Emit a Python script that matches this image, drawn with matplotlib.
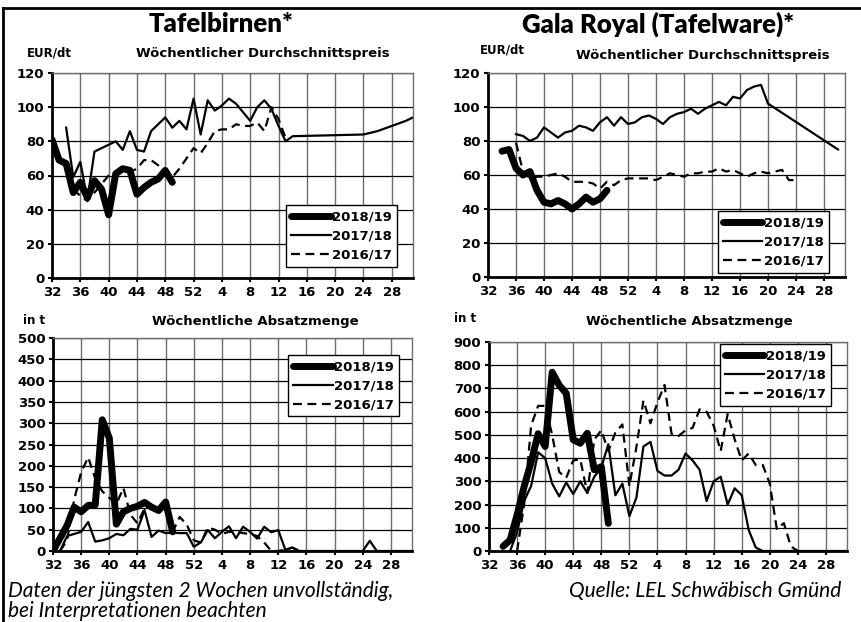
import matplotlib
matplotlib.use('Agg')
import matplotlib.pyplot as plt
from matplotlib.lines import Line2D

# week index: 32..52 of first year, then 1..31 of next year
def pos(weeks):
    return [w - 32 if w >= 32 else w + 20 for w in weeks]

tick_weeks = [32, 36, 40, 44, 48, 52, 4, 8, 12, 16, 20, 24, 28]
seasons = ['2018/19', '2017/18', '2016/17']

# Tafelbirnen - Preis (EUR/dt)
birn_p18_w = list(range(32, 50))
birn_p18 = [81, 69, 67, 50, 56, 47, 57, 52, 37, 61, 64, 63, 49, 53, 56, 58, 63, 56]
birn_p17_w = list(range(34, 53)) + list(range(1, 15)) + [24, 26, 28, 30, 31]
birn_p17 = [88, 59, 68, 46, 74, 76, 78, 80, 75, 86, 75, 74, 86, 90, 94, 88, 92, 87, 105,
            84, 104, 98, 101, 105, 102, 97, 92, 100, 104, 99, 89, 80, 83,
            84, 86, 89, 92, 94]
birn_p16_w = list(range(35, 53)) + list(range(1, 14))
birn_p16 = [52, 48, 45, 50, 55, 60, 62, 63, 62, 64, 69, 69, 66, 62, 59, 64, 70, 76,
            73, 79, 86, 87, 87, 90, 89, 89, 91, 86, 100, 93, 82]

# Tafelbirnen - Menge (t)
birn_m18_w = list(range(32, 50))
birn_m18 = [0, 30, 60, 103, 92, 107, 108, 308, 265, 63, 92, 100, 105, 114, 103, 95, 115, 45]
birn_m17_w = list(range(33, 53)) + list(range(1, 32))
birn_m17 = [0, 35, 40, 45, 68, 22, 25, 30, 40, 37, 52, 50, 96, 33, 48, 42, 43, 42, 42, 10,
            20, 49, 30, 45, 58, 30, 57, 45, 29, 57, 44, 49, 3, 8, 0, 0, 0, 0, 0, 0,
            0, 0, 0, 0, 24, 0, 0, 0, 0, 0, 0]
birn_m16_w = list(range(33, 53)) + list(range(1, 16))
birn_m16 = [0, 25, 120, 185, 220, 170, 140, 125, 110, 148, 85, 65, 100, 105, 95, 100, 45, 80, 62, 25,
            20, 55, 50, 40, 45, 45, 42, 40, 35, 20, 0, 0, 3, 8, 0]

# Gala Royal - Preis (EUR/dt)
gala_p18_w = list(range(34, 50))
gala_p18 = [74, 75, 64, 60, 62, 51, 44, 43, 45, 43, 40, 43, 47, 44, 46, 51]
gala_p17_w = list(range(36, 53)) + list(range(1, 21)) + [30]
gala_p17 = [84, 83, 80, 82, 88, 85, 82, 85, 86, 89, 88, 86, 91, 94, 89, 94, 90,
            91, 94, 95, 93, 90, 94, 96, 97, 99, 96, 99, 101, 103, 101, 106, 105, 110, 112, 113, 102,
            75]
gala_p16_w = list(range(36, 53)) + list(range(1, 25))
gala_p16 = [79, 62, 58, 59, 59, 60, 61, 59, 56, 56, 56, 55, 52, 56, 54, 57, 58,
            58, 58, 58, 57, 59, 61, 60, 59, 61, 61, 62, 62, 64, 62, 63, 61, 59, 61, 62, 61, 62, 63, 57, 57]

# Gala Royal - Menge (t)
gala_m18_w = list(range(34, 50))
gala_m18 = [20, 47, 155, 277, 383, 505, 450, 770, 714, 679, 479, 464, 507, 350, 363, 119]
gala_m17_w = list(range(35, 53)) + list(range(1, 32))
gala_m17 = [0, 80, 215, 280, 425, 400, 290, 235, 295, 245, 300, 250, 320, 360, 460, 240, 290, 150,
            230, 450, 470, 345, 325, 325, 350, 420, 390, 350, 215, 300, 320, 200, 270, 240, 90, 15, 0,
            0, 0, 0, 0, 0, 0, 0, 0, 0, 0, 0, 0]
gala_m16_w = list(range(36, 53)) + list(range(1, 25))
gala_m16 = [0, 200, 540, 625, 625, 500, 340, 315, 390, 395, 250, 480, 520, 430, 510, 545, 280,
            448, 648, 550, 640, 715, 505, 495, 520, 530, 610, 600, 540, 430, 590, 480, 390, 420, 370, 370,
            290, 95, 120, 20, 0]

W, H = 862, 622
fig = plt.figure(figsize=(W / 100, H / 100), dpi=100)

styles = [dict(color='black', lw=5.0, ls='-', solid_capstyle='round', solid_joinstyle='round'),
          dict(color='black', lw=1.6, ls='-', solid_joinstyle='round'),
          dict(color='black', lw=1.6, ls=(0, (4, 2.5)), dash_capstyle='butt')]


def make_ax(box, ymax, ystep, series, leg_loc, leg_anchor):
    l, t, r, b = box
    ax = fig.add_axes([l / W, 1 - b / H, (r - l) / W, (b - t) / H])
    # draw 2016/17 first, 2018/19 on top
    for (wk, vals), st in list(zip(series, styles))[::-1]:
        ax.plot(pos(wk), vals, **st)
    ax.set_xlim(0, 51)
    ax.set_ylim(0, ymax)
    ax.set_yticks(range(0, ymax + 1, ystep))
    ax.set_xticks(pos(tick_weeks))
    ax.set_xticklabels([str(w) for w in tick_weeks])
    for lab in ax.get_xticklabels() + ax.get_yticklabels():
        lab.set_fontweight('bold')
        lab.set_fontsize(9.5)
        lab.set_family('DejaVu Sans')
    ax.tick_params(direction='out', length=3, width=1.5, pad=2.5)
    ax.grid(axis='y', color='black', lw=0.9)
    ax.grid(axis='x', color='#6e6e6e', lw=1.0)
    ax.set_axisbelow(True)
    for s in ['left', 'bottom']:
        ax.spines[s].set_linewidth(2)
    for s in ['top', 'right']:
        ax.spines[s].set_linewidth(1)
        ax.spines[s].set_color('#6e6e6e')
    handles = [Line2D([], [], **st) for st in styles]
    leg = ax.legend(handles, seasons, loc=leg_loc, bbox_to_anchor=leg_anchor,
                    borderaxespad=0, fancybox=False, framealpha=1, edgecolor='black',
                    handlelength=3.0, handletextpad=0.1, borderpad=0.4, labelspacing=0.45,
                    prop=dict(family='DejaVu Sans', weight='bold', size=9.5))
    leg.get_frame().set_linewidth(1.0)
    return ax


make_ax((52, 73, 413, 278), 120, 20,
        [(birn_p18_w, birn_p18), (birn_p17_w, birn_p17), (birn_p16_w, birn_p16)],
        'lower right', (0.956, 0.054))
make_ax((488, 73, 845, 277), 120, 20,
        [(gala_p18_w, gala_p18), (gala_p17_w, gala_p17), (gala_p16_w, gala_p16)],
        'lower right', (0.955, 0.02))
make_ax((53, 338, 412, 551), 500, 50,
        [(birn_m18_w, birn_m18), (birn_m17_w, birn_m17), (birn_m16_w, birn_m16)],
        'upper right', (0.964, 0.92))
make_ax((489, 342, 847, 551), 900, 100,
        [(gala_m18_w, gala_m18), (gala_m17_w, gala_m17), (gala_m16_w, gala_m16)],
        'upper right', (0.955, 0.99))


def ftext(x, y, s, **kw):
    fig.text(x / W, 1 - y / H, s, **kw)


lab = dict(family='DejaVu Sans', weight='bold', va='center')
ttl = dict(family='Lato', weight='heavy', size=18.5, ha='center', va='center')
ftext(221, 24, 'Tafelbirnen*', **ttl)
ftext(658, 24, 'Gala Royal (Tafelware)*', **ttl)
ftext(27, 53, 'EUR/dt', size=8.5, ha='left', **lab)
ftext(136, 53, 'Wöchentlicher Durchschnittspreis', size=9.5, ha='left', **lab)
ftext(480, 50, 'EUR/dt', size=8.5, ha='left', **lab)
ftext(576, 55, 'Wöchentlicher Durchschnittspreis', size=9.5, ha='left', **lab)
ftext(23, 320, 'in t', size=8.5, ha='left', **lab)
ftext(152, 322, 'Wöchentliche Absatzmenge', size=9.5, ha='left', **lab)
ftext(454, 318, 'in t', size=8.5, ha='left', **lab)
ftext(586, 322, 'Wöchentliche Absatzmenge', size=9.5, ha='left', **lab)

foot = dict(family='Lato', style='italic', size=15, va='baseline')
ftext(8, 597, 'Daten der jüngsten 2 Wochen unvollständig,', ha='left', **foot)
ftext(8, 617, 'bei Interpretationen beachten', ha='left', **foot)
ftext(569, 597, 'Quelle: LEL Schwäbisch Gmünd', ha='left', **foot)

# outer frame
fig.add_artist(Line2D([3 / W, 3 / W], [0, 1 - 8 / H], transform=fig.transFigure, color='black', lw=2))
fig.add_artist(Line2D([3 / W, 1], [1 - 8 / H, 1 - 8 / H], transform=fig.transFigure, color='black', lw=2))

fig.savefig('out.png', dpi=100)
